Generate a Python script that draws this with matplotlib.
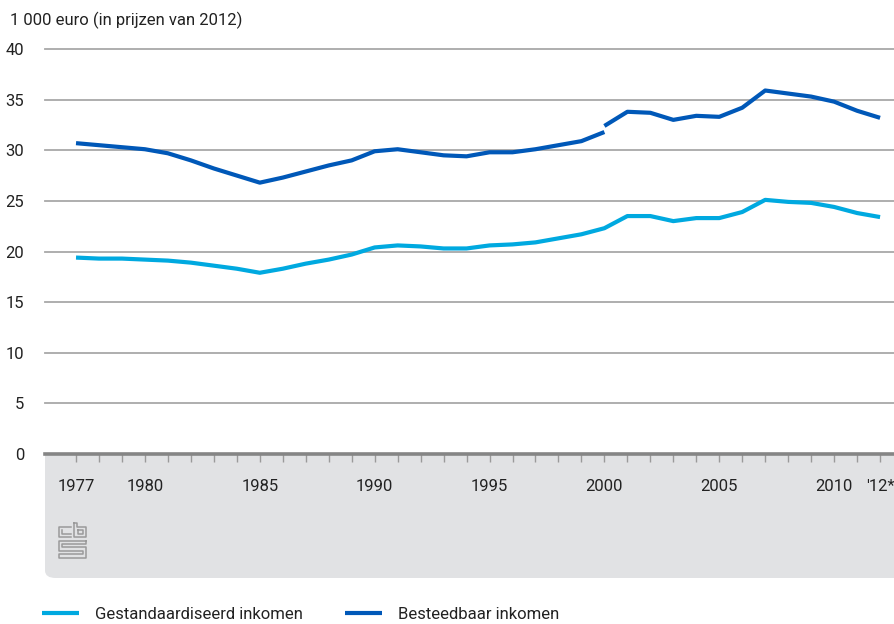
"""Gestandaardiseerd en besteedbaar inkomen, 1977-2012 (1 000 euro, prijzen 2012)."""
import matplotlib

matplotlib.use("Agg")
import matplotlib.pyplot as plt
from matplotlib.patches import FancyBboxPatch
from matplotlib.lines import Line2D

plt.rcParams["font.family"] = ["Roboto", "DejaVu Sans"]

years = list(range(1977, 2013))
gestandaardiseerd = [
    19.4, 19.3, 19.3, 19.2, 19.1, 18.9, 18.6, 18.3, 17.9, 18.3,
    18.8, 19.2, 19.7, 20.4, 20.6, 20.5, 20.3, 20.3, 20.6, 20.7,
    20.9, 21.3, 21.7, 22.3, 23.5, 23.5, 23.0, 23.3, 23.3, 23.9,
    25.1, 24.9, 24.8, 24.4, 23.8, 23.4,
]
# besteedbaar inkomen: trendbreuk in 2000
years_old = list(range(1977, 2001))
besteedbaar_old = [
    30.7, 30.5, 30.3, 30.1, 29.7, 29.0, 28.2, 27.5, 26.8, 27.3,
    27.9, 28.5, 29.0, 29.9, 30.1, 29.8, 29.5, 29.4, 29.8, 29.8,
    30.1, 30.5, 30.9, 31.8,
]
years_new = list(range(2000, 2013))
besteedbaar_new = [32.4, 33.8, 33.7, 33.0, 33.4, 33.3, 34.2, 35.9, 35.6, 35.3, 34.8, 33.9, 33.2]

labelled = {1977: "1977", 1980: "1980", 1985: "1985", 1990: "1990", 1995: "1995",
            2000: "2000", 2005: "2005", 2010: "2010", 2012: "'12*"}
y_ticks = [0, 5, 10, 15, 20, 25, 30, 35, 40]

light = "#00a9e0"
dark = "#0058b8"
W, H = 895, 624

fig = plt.figure(figsize=(W / 100, H / 100), dpi=100)

# grey footer box behind the x axis
box = FancyBboxPatch((45 / W, (H - 578) / H), (W - 45) / W + 0.02, 135 / H,
                     boxstyle="round,pad=0,rounding_size=0.012",
                     transform=fig.transFigure, facecolor="#e1e2e4",
                     edgecolor="none", zorder=0)
fig.patches.append(box)

ax = fig.add_axes([45 / W, (H - 454) / H, 850 / W, 405 / H])
ax.set_facecolor("white")
ax.set_zorder(1)

ax.plot(years, gestandaardiseerd, color=light, lw=3, solid_capstyle="butt",
        label="Gestandaardiseerd inkomen", zorder=3)
ax.plot(years_old, besteedbaar_old, color=dark, lw=3, solid_capstyle="butt",
        label="Besteedbaar inkomen", zorder=3)
ax.plot(years_new, besteedbaar_new, color=dark, lw=3, solid_capstyle="butt", zorder=3)

ax.set_xlim(1975.65, 2012.65)
ax.set_ylim(0, 40)
ax.set_yticks(y_ticks)
ax.set_yticklabels([str(v) for v in y_ticks], fontsize=12, color="#222222")
ax.set_xticks(years)
ax.set_xticklabels([labelled.get(y, "") for y in years], fontsize=12, color="#222222")
ax.tick_params(axis="y", length=0, pad=15)
ax.tick_params(axis="x", length=6, width=1, color="#9a9a9a", pad=12)

for v in y_ticks[1:]:
    ax.axhline(v, color="#a8a8a8", lw=1.3, zorder=1, clip_on=False)

for side in ["top", "right", "left"]:
    ax.spines[side].set_visible(False)
ax.spines["bottom"].set_color("#858585")
ax.spines["bottom"].set_linewidth(2.6)
ax.spines["bottom"].set_zorder(4)

fig.text(10 / W, 1 - 20 / H, "1 000 euro (in prijzen van 2012)", fontsize=12,
         color="#222222", va="center", ha="left")

# cbs logo (rough line drawing)
def px(x, y):
    return x / W, 1 - y / H

logo = [
    [(71, 527), (59, 527), (59, 537), (71, 537)],
    [(62, 530), (62, 534), (71, 534)],
    [(74, 523), (74, 537), (86, 537), (86, 527), (77, 527), (77, 523), (74, 523)],
    [(78, 530), (83, 530), (83, 534), (78, 534), (78, 530)],
    [(86, 541), (59, 541), (59, 551), (83, 551), (83, 554), (59, 554), (59, 558), (86, 558),
     (86, 547), (62, 547), (62, 544), (86, 544), (86, 541)],
]
for pts in logo:
    xs, ys = zip(*[px(x, y) for x, y in pts])
    fig.add_artist(Line2D(xs, ys, transform=fig.transFigure, color="#9a9a9a", lw=1.1, zorder=5))

handles, labels = ax.get_legend_handles_labels()
fig.legend(handles, labels, loc="lower left", bbox_to_anchor=(27 / W, -13 / H),
           ncol=2, frameon=False, fontsize=12, handlelength=2.2, handletextpad=1.0,
           columnspacing=2.5, labelcolor="#222222")

fig.savefig("out.png", dpi=100)
